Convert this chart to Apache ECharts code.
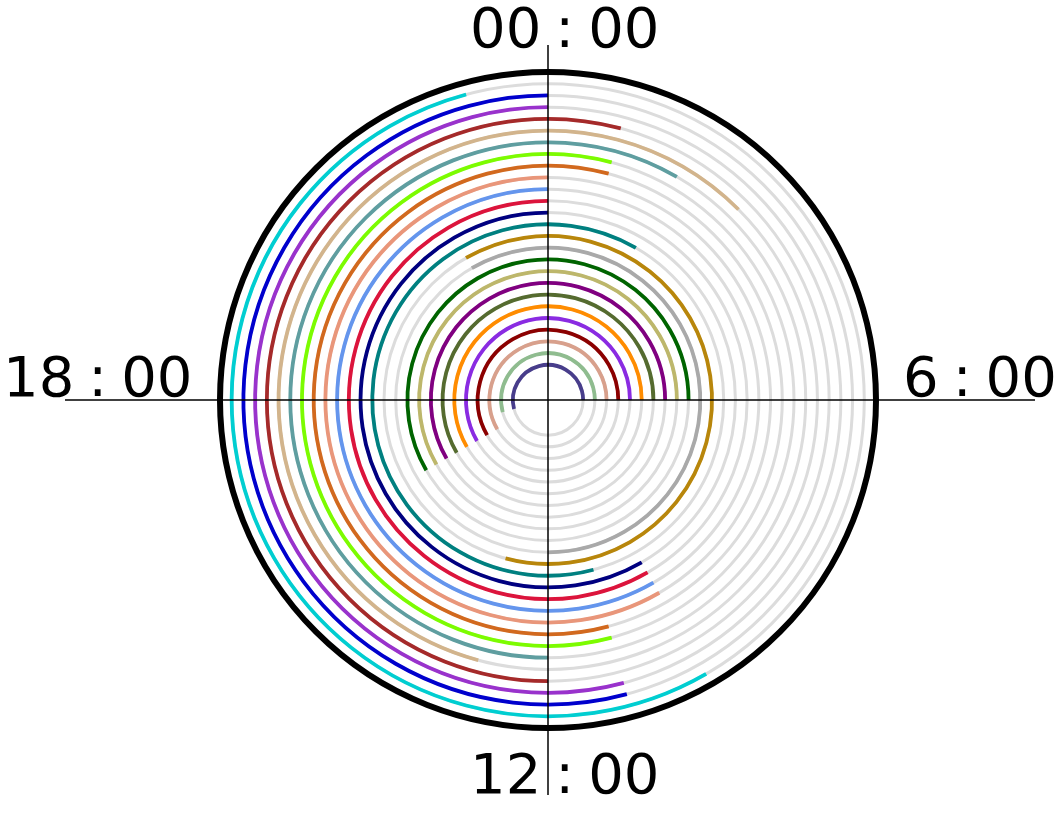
<!DOCTYPE html>
<html>
<head>
<meta charset="utf-8">
<script src="https://cdn.jsdelivr.net/npm/echarts@6/dist/echarts.min.js"></script>
<style>html,body{margin:0;padding:0;background:#fff;}#chart{width:1064px;height:816px;}</style>
</head>
<body>
<div id="chart"></div>
<script>
// Radial levels (one ring per day), hours on a 24h clock (0 = top, clockwise)
const ringLevels = [3,4,5,6,7,8,9,10,11,12,13,14,15,16,17,18,19,20,21,22,23,24,25,26,27];
const arcLevel = [27,26,25,24,23,22,21,20,19,18,17,16,15,14,13,12,11,10,9,8,7,6,5,4,3];
const arcStart = [10,11,11,12,13,12,11,11,10,10,10,10,11,22,22,16,16,16,16,16,16,16,16,17,17];
const arcEnd   = [23,24,24, 1, 3, 2, 1, 1,24,24,24,24, 2,13,12, 6, 6, 6, 6, 6, 6, 6, 6, 6, 6];
const arcColor = ['#00ced1','#0000cd','#9932cc','#a52a2a','#d2b48c','#5f9ea0','#7cfc00','#d2691e','#e9967a','#6495ed','#dc143c','#000080','#008080','#b8860b','#a9a9a9','#006400','#bdb76b','#800080','#556b2f','#ff8c00','#8a2be2','#8b0000','#d8a08c','#8fbc8f','#483d8b'];
const hourLabels = ['00:00','6:00','12:00','18:00'];

const arcData = arcLevel.map((k, i) => [k, arcStart[i], arcEnd[i], i]);
const ringData = ringLevels.map(k => [k, 0]);

const chart = echarts.init(document.getElementById('chart'));

function arcItem(params, api) {
  const cs = params.coordSys;
  const k = api.value(0), a0 = api.value(1), a1 = api.value(2);
  const p0 = api.coord([k, a0]);
  const p1 = api.coord([k, a1]);
  const r = Math.hypot(p0[0] - cs.cx, p0[1] - cs.cy);
  const sa = Math.atan2(p0[1] - cs.cy, p0[0] - cs.cx);
  const ea = Math.atan2(p1[1] - cs.cy, p1[0] - cs.cx);
  return {
    type: 'arc',
    shape: { cx: cs.cx, cy: cs.cy, r: r, startAngle: sa, endAngle: ea, clockwise: true },
    style: { stroke: arcColor[api.value(3)], fill: null, lineWidth: 3.8 }
  };
}
function ringItem(params, api) {
  const cs = params.coordSys;
  const p = api.coord([api.value(0), api.value(1)]);
  const r = Math.hypot(p[0] - cs.cx, p[1] - cs.cy);
  return {
    type: 'circle',
    shape: { cx: cs.cx, cy: cs.cy, r: r },
    style: { stroke: '#dcdcdc', fill: null, lineWidth: 3 }
  };
}

const font = '56px "DejaVu Sans"';
function lbl(t, x, y) {
  return { type: 'text', x: x, y: y, style: { text: t.replace(':', '\u2005:\u2005'), font: font, fill: '#000', verticalAlign: 'middle', align: 'left' }, z: 10 };
}

chart.setOption({
  animation: false,
  polar: { center: [548, 400], radius: 328 },
  angleAxis: {
    type: 'value', min: 0, max: 24, startAngle: 90, clockwise: true,
    axisLine: { show: true, lineStyle: { color: '#000', width: 6 } },
    axisTick: { show: false }, axisLabel: { show: false }, splitLine: { show: false }
  },
  radiusAxis: {
    type: 'value', min: 0, max: 28,
    axisLine: { show: false }, axisTick: { show: false }, axisLabel: { show: false }, splitLine: { show: false }
  },
  graphic: [
    { type: 'line', shape: { x1: 65, y1: 400, x2: 1035, y2: 400 }, style: { stroke: '#000', lineWidth: 1.5 }, z: 5 },
    { type: 'line', shape: { x1: 548, y1: 45, x2: 548, y2: 795 }, style: { stroke: '#000', lineWidth: 1.5 }, z: 5 },
    lbl(hourLabels[0], 470, 32),
    lbl(hourLabels[1], 903, 381),
    lbl(hourLabels[2], 470, 778),
    lbl(hourLabels[3], 3, 381)
  ],
  series: [
    { type: 'custom', coordinateSystem: 'polar', data: ringData, renderItem: ringItem, silent: true, z: 1 },
    { type: 'custom', coordinateSystem: 'polar', data: arcData, renderItem: arcItem, silent: true, z: 2 }
  ]
});
</script>
</body>
</html>
